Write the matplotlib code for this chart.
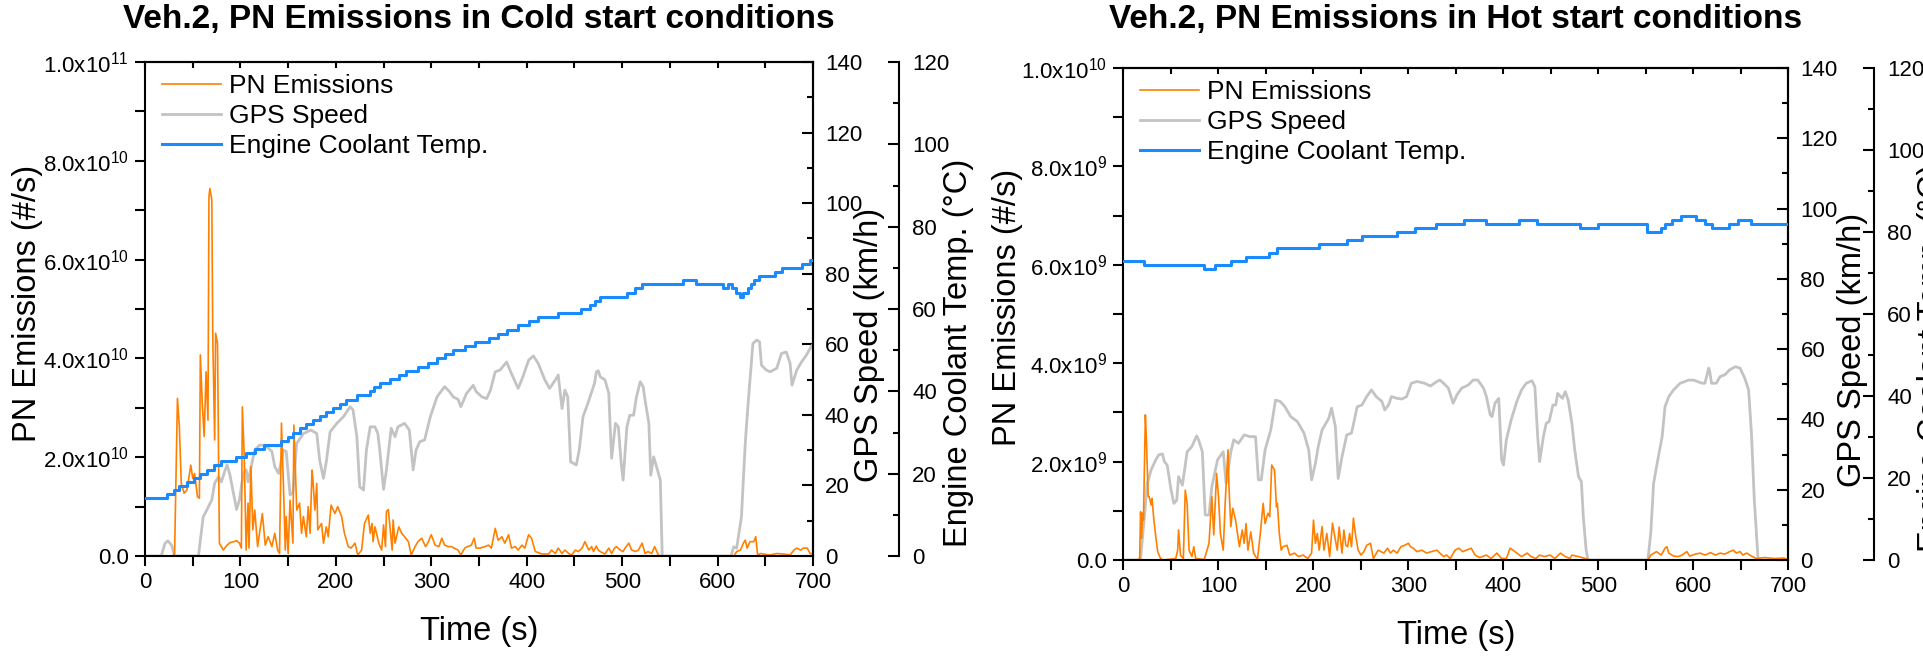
import numpy as np
import matplotlib
matplotlib.use('Agg')
import matplotlib.pyplot as plt
from matplotlib.ticker import MultipleLocator, FuncFormatter

plt.rcParams['font.family'] = ['Liberation Sans', 'DejaVu Sans']
plt.rcParams['mathtext.fontset'] = 'custom'
plt.rcParams['mathtext.rm'] = 'Liberation Sans'

ORANGE = '#FF8000'
GRAY = '#C3C3C3'
BLUE = '#1A8AFF'

# ---- cold start (Veh.2) ----
# PN in units of 1e10 #/s
t_pn_cold = [0, 29, 31, 34, 36, 38, 41, 44, 48, 50,
             52, 55, 57, 58, 60, 62, 64, 66, 67, 68,
             70, 71, 73, 74, 76, 77, 78, 82, 86, 89,
             93, 96, 99, 101, 102, 104, 106, 108, 109, 111,
             113, 115, 118, 120, 123, 126, 129, 133, 136, 139,
             141, 143, 145, 147, 148, 150, 152, 155, 156, 159,
             162, 164, 166, 169, 171, 173, 175, 176, 178, 180,
             181, 185, 187, 190, 192, 195, 199, 202, 206, 209,
             213, 216, 220, 223, 227, 230, 234, 236, 238, 239,
             241, 245, 248, 250, 252, 253, 255, 257, 259, 260,
             262, 266, 269, 272, 276, 279, 283, 286, 290, 294,
             297, 299, 300, 304, 308, 311, 314, 318, 321, 328,
             331, 335, 338, 342, 345, 347, 351, 356, 360, 363,
             367, 370, 374, 377, 381, 384, 388, 391, 395, 398,
             402, 405, 409, 416, 423, 426, 430, 433, 437, 440,
             444, 447, 451, 454, 458, 461, 465, 468, 470, 473,
             475, 477, 482, 486, 489, 492, 494, 498, 501, 503,
             507, 510, 514, 517, 521, 524, 527, 531, 534, 538,
             541, 617, 620, 624, 627, 629, 631, 634, 638, 640,
             642, 645, 648, 655, 662, 669, 676, 680, 683, 687,
             690, 694, 697, 700]
pn_cold = [0, 0, 0.05, 3.19, 2.62, 1.47, 1.27, 1.34, 1.84, 1.57,
           1.67, 1.20, 1.17, 4.07, 3.09, 2.42, 3.73, 2.75, 7.27, 7.44,
           7.21, 4.44, 2.35, 4.51, 4.30, 2.15, 0.26, 0.12, 0.22, 0.27,
           0.29, 0.31, 0.26, 0.16, 3.02, 2.01, 0.12, 1.07, 0.16, 1.81,
           0.53, 0.93, 0.19, 0.46, 0.86, 0.22, 0.39, 0.19, 0.46, 0.12,
           0.05, 2.69, 1.47, 0.12, 0.80, 0.05, 1.13, 0.26, 2.65, 0.93,
           1.07, 0.46, 0.80, 0.39, 1.00, 0.46, 1.74, 1.54, 0.93, 1.47,
           0.53, 0.66, 0.26, 0.59, 0.39, 1.03, 0.86, 1.00, 0.80, 0.46,
           0.19, 0.16, 0.26, 0.02, 0.12, 0.66, 0.83, 0.46, 0.66, 0.29,
           0.59, 0.26, 0.12, 0.63, 0.19, 0.90, 0.94, 0.53, 0.12, 0.73,
           0.26, 0.59, 0.46, 0.39, 0.29, 0.02, 0.19, 0.29, 0.36, 0.19,
           0.29, 0.39, 0.43, 0.22, 0.19, 0.36, 0.22, 0.19, 0.19, 0.12,
           0.02, 0.16, 0.19, 0.22, 0.36, 0.16, 0.16, 0.19, 0.22, 0.16,
           0.56, 0.32, 0.39, 0.26, 0.43, 0.16, 0.19, 0.12, 0.22, 0.16,
           0.43, 0.36, 0.09, 0.04, 0.04, 0.12, 0.05, 0.16, 0.05, 0.12,
           0.05, 0.02, 0.12, 0.09, 0.16, 0.29, 0.12, 0.19, 0.09, 0.20,
           0.12, 0.09, 0.04, 0.16, 0.05, 0.16, 0.19, 0.12, 0.09, 0.16,
           0.26, 0.12, 0.09, 0.12, 0.26, 0.05, 0.09, 0.05, 0.19, 0.02,
           0, 0, 0.09, 0.12, 0.26, 0.32, 0.16, 0.29, 0.29, 0.39,
           0.02, 0.05, 0.04, 0.02, 0.05, 0.04, 0.02, 0.12, 0.16, 0.12,
           0.16, 0.16, 0.05, 0.04]

t_speed_cold = [0, 17, 21, 24, 28, 31, 56, 61, 64, 70,
                73, 77, 80, 84, 86, 89, 92, 96, 99, 103,
                106, 108, 112, 115, 120, 126, 133, 136, 140, 145,
                148, 152, 155, 159, 166, 174, 180, 183, 187, 190,
                194, 201, 208, 215, 218, 222, 225, 229, 232, 236,
                241, 244, 246, 250, 253, 258, 262, 265, 272, 277,
                281, 284, 288, 293, 299, 306, 314, 319, 323, 328,
                331, 337, 344, 347, 353, 358, 362, 367, 372, 379,
                384, 391, 396, 402, 407, 412, 419, 424, 430, 433,
                437, 440, 443, 446, 452, 455, 459, 464, 471, 473,
                475, 477, 482, 486, 487, 489, 493, 496, 499, 501,
                505, 508, 512, 515, 519, 522, 524, 528, 530, 533,
                537, 540, 542, 614, 617, 620, 625, 629, 632, 637,
                641, 644, 646, 651, 655, 662, 667, 672, 676, 678,
                683, 688, 693, 698, 700]
speed_cold = [0, 0, 3.6, 4.3, 3.0, 0, 0, 11.1, 12.6, 15.9,
              20.6, 22.5, 21.0, 24.4, 25.8, 23.0, 18.7, 13.2, 15.9, 23.4,
              24.4, 21.0, 26.3, 30.0, 31.4, 31.4, 29.6, 25.3, 23.4, 30.0,
              29.6, 17.3, 18.0, 31.9, 34.7, 35.7, 34.7, 27.2, 22.0, 26.7,
              35.2, 37.6, 39.5, 42.3, 41.4, 33.8, 19.6, 18.7, 30.0, 36.6,
              36.6, 34.7, 30.0, 18.9, 24.4, 36.2, 33.8, 36.6, 37.6, 35.7,
              24.4, 30.0, 32.4, 32.9, 39.5, 45.1, 48.0, 46.6, 45.1, 44.4,
              42.3, 46.1, 48.4, 46.6, 45.1, 44.6, 47.0, 52.2, 52.7, 55.0,
              51.7, 47.5, 50.8, 55.5, 56.7, 54.6, 49.9, 47.5, 49.9, 51.3,
              41.8, 47.0, 45.1, 26.7, 25.8, 30.0, 39.5, 43.2, 48.9, 52.2,
              52.5, 50.8, 49.9, 46.1, 39.5, 27.7, 37.6, 36.6, 26.3, 21.5,
              36.6, 39.9, 39.9, 45.1, 49.4, 48.0, 44.2, 37.6, 22.9, 28.1,
              24.4, 21.5, 0, 0, 2.6, 2.2, 11.1, 31.9, 43.2, 60.2,
              61.2, 60.7, 54.1, 52.7, 52.2, 53.2, 57.4, 57.8, 54.6, 48.4,
              52.7, 55.0, 56.9, 59.3, 60.0]

t_temp_cold = [0, 23, 30, 36, 44, 51, 58, 65, 72, 80,
               95, 106, 115, 125, 143, 150, 155, 162, 169, 176,
               183, 190, 197, 204, 211, 222, 236, 240, 246, 257,
               266, 274, 286, 297, 306, 314, 323, 335, 346, 360,
               370, 379, 391, 402, 412, 433, 457, 466, 472, 477,
               505, 513, 521, 564, 577, 606, 611, 615, 619, 623,
               627, 632, 635, 638, 643, 660, 667, 688, 697, 700]
temp_cold = [14, 15, 16, 17, 18, 19, 20, 21, 22, 23,
             24, 25, 26, 27, 28, 29, 30, 31, 32, 33,
             34, 35, 36, 37, 38, 39, 40, 41, 42, 43,
             44, 45, 46, 47, 48, 49, 50, 51, 52, 53,
             54, 55, 56, 57, 58, 59, 60, 61, 62, 63,
             64, 65, 66, 67, 66, 65, 66, 65, 64, 63,
             64, 65, 66, 67, 68, 69, 70, 71, 72, 72]

# ---- hot start (Veh.2) ----
# PN in units of 1e9 #/s
t_pn_hot = [0, 15, 17, 18, 19, 20, 21, 23, 24, 26,
            27, 29, 30, 32, 34, 36, 39, 42, 55, 57,
            58, 60, 63, 65, 67, 69, 72, 74, 76, 85,
            90, 93, 95, 98, 100, 102, 105, 107, 110, 111,
            113, 115, 118, 120, 122, 125, 127, 129, 131, 134,
            137, 141, 144, 147, 149, 152, 154, 156, 159, 161,
            162, 164, 166, 168, 172, 175, 180, 184, 189, 194,
            198, 200, 202, 204, 206, 209, 211, 214, 217, 220,
            223, 225, 227, 230, 232, 234, 236, 238, 240, 242,
            244, 247, 250, 253, 256, 260, 263, 268, 274, 278,
            281, 284, 288, 292, 296, 300, 302, 305, 309, 314,
            319, 324, 330, 333, 337, 340, 344, 349, 353, 357,
            361, 366, 370, 375, 382, 387, 393, 398, 403, 407,
            410, 414, 419, 425, 429, 434, 438, 443, 449, 454,
            460, 465, 470, 472, 479, 486, 490, 552, 555, 561,
            566, 570, 572, 574, 579, 584, 588, 593, 596, 602,
            607, 612, 618, 623, 628, 633, 638, 642, 645, 649,
            652, 656, 661, 666, 675, 685, 695, 700]
pn_hot = [0, 0, 0.03, 0.98, 0.44, 0.95, 0.81, 2.95, 2.51, 1.29,
          1.29, 1.12, 1.25, 0.81, 0.47, 0.17, 0.03, 0, 0.03, 0.20,
          0.61, 0.10, 0.03, 1.42, 1.15, 0.20, 0.07, 0.27, 0.03, 0.01,
          0.34, 1.29, 0.51, 1.76, 1.29, 0.54, 0.20, 1.15, 2.24, 1.49,
          0.68, 1.05, 0.81, 0.54, 0.27, 0.61, 0.34, 0.74, 0.20, 0.57,
          0.14, 0.01, 0.54, 1.15, 0.74, 0.95, 0.88, 1.93, 1.83, 1.08,
          1.15, 0.54, 0.20, 0.27, 0.30, 0.10, 0.14, 0.07, 0.10, 0.03,
          0.14, 0.81, 0.34, 0.54, 0.20, 0.68, 0.20, 0.54, 0.07, 0.75,
          0.41, 0.20, 0.67, 0.14, 0.61, 0.30, 0.27, 0.54, 0.27, 0.85,
          0.54, 0.20, 0.10, 0.17, 0.30, 0.34, 0.03, 0.20, 0.14, 0.24,
          0.14, 0.20, 0.14, 0.27, 0.30, 0.34, 0.27, 0.24, 0.17, 0.20,
          0.14, 0.17, 0.20, 0.14, 0.07, 0.10, 0.03, 0.20, 0.24, 0.17,
          0.20, 0.24, 0.10, 0.05, 0.10, 0.03, 0.14, 0.03, 0.03, 0.24,
          0.20, 0.14, 0.07, 0.14, 0.07, 0.03, 0.10, 0.07, 0.10, 0.03,
          0.14, 0.07, 0.03, 0.10, 0.07, 0.03, 0, 0, 0.10, 0.17,
          0.10, 0.24, 0.27, 0.14, 0.08, 0.07, 0.10, 0.17, 0.08, 0.12,
          0.14, 0.10, 0.15, 0.10, 0.14, 0.12, 0.17, 0.20, 0.14, 0.17,
          0.10, 0.14, 0.08, 0.03, 0.05, 0.03, 0.04, 0.01]

t_speed_hot = [0, 16, 18, 22, 25, 29, 34, 37, 41, 43,
               46, 50, 53, 56, 58, 62, 67, 72, 77, 79,
               83, 86, 90, 93, 99, 105, 108, 113, 116, 121,
               127, 133, 139, 142, 145, 149, 155, 160, 165, 170,
               176, 183, 190, 195, 198, 202, 205, 209, 212, 216,
               219, 223, 226, 230, 235, 240, 246, 251, 256, 261,
               266, 272, 275, 279, 282, 288, 293, 298, 303, 309,
               317, 323, 330, 333, 337, 342, 347, 351, 356, 363,
               368, 373, 379, 382, 386, 388, 391, 395, 398, 400,
               403, 408, 414, 419, 424, 430, 433, 436, 438, 442,
               445, 448, 452, 455, 457, 462, 465, 468, 472, 475,
               479, 482, 484, 487, 489, 552, 555, 558, 563, 567,
               570, 574, 579, 586, 595, 600, 609, 612, 616, 617,
               619, 624, 628, 633, 638, 644, 649, 654, 658, 661,
               664, 668, 700]
speed_hot = [0, 0, 0.5, 12.3, 21.8, 25.6, 28.5, 29.9, 30.2, 28.0,
             27.0, 20.0, 16.1, 17.0, 23.7, 21.3, 30.8, 32.3, 35.3, 34.2,
             30.8, 12.8, 12.8, 20.9, 28.5, 30.8, 21.8, 30.8, 34.2, 33.2,
             35.6, 35.1, 35.1, 22.8, 22.8, 31.3, 37.0, 45.5, 45.1, 43.6,
             40.8, 39.4, 36.1, 31.3, 22.8, 27.5, 32.3, 37.0, 38.4, 40.3,
             43.2, 38.0, 23.2, 29.4, 35.6, 36.1, 43.6, 44.1, 46.5, 48.4,
             46.5, 45.1, 42.7, 44.1, 46.5, 46.0, 45.8, 46.5, 50.3, 50.8,
             50.3, 49.5, 50.8, 51.2, 50.3, 48.9, 44.6, 47.0, 48.9, 49.8,
             51.2, 51.2, 48.9, 46.5, 41.3, 40.8, 44.6, 46.0, 28.5, 27.0,
             34.2, 39.8, 45.1, 48.4, 50.3, 51.0, 49.3, 35.1, 28.0, 35.1,
             38.9, 39.4, 44.1, 44.1, 47.4, 46.0, 47.9, 45.6, 38.9, 31.3,
             23.7, 22.3, 12.3, 2.8, 0, 0, 7.6, 21.8, 29.4, 35.1,
             43.6, 46.5, 48.4, 50.3, 51.2, 51.2, 50.3, 50.3, 54.6, 53.7,
             50.3, 50.3, 52.2, 52.7, 54.1, 55.0, 54.6, 51.7, 48.4, 36.1,
             17.1, 0, 0]

t_temp_hot = [0, 22, 85, 96, 113, 129, 153, 162, 206, 235,
              251, 288, 307, 329, 358, 382, 416, 435, 481, 500,
              551, 566, 570, 577, 587, 603, 612, 619, 637, 647,
              661, 700]
temp_hot = [73, 72, 71, 72, 73, 74, 75, 76, 77, 78,
            79, 80, 81, 82, 83, 82, 83, 82, 81, 82,
            80, 81, 82, 83, 84, 83, 82, 81, 82, 83,
            82, 82]


def sci_fmt(v, pos):
    if abs(v) < 1:
        return '0.0'
    if v < 0:
        return ''
    e = int(np.floor(np.log10(v) + 1e-9))
    return r'$\mathregular{%.1fx10^{%d}}$' % (v / 10 ** e, e)


def draw_panel(fig, rect, title, t_pn, pn, pn_top, t_spd, spd, t_tmp, tmp,
               lab_xy):
    ax = fig.add_axes(rect)
    ax_spd = ax.twinx()
    ax_tmp = ax.twinx()

    # speed underneath, PN above it, coolant temp on top
    ax_spd.set_zorder(1)
    ax.set_zorder(2)
    ax_tmp.set_zorder(3)
    ax.patch.set_visible(False)

    l_spd, = ax_spd.plot(t_spd, spd, color=GRAY, lw=2.0)
    l_pn, = ax.plot(t_pn, np.array(pn) * pn_top / 10, color=ORANGE, lw=1.2)
    l_tmp, = ax_tmp.plot(t_tmp, tmp, color=BLUE, lw=2.2, drawstyle='steps-post')

    ax.set_xlim(0, 700)
    ax.set_ylim(0, pn_top)
    ax_spd.set_ylim(0, 140)
    ax_tmp.set_ylim(0, 120)

    ax_tmp.spines['right'].set_position(('axes', 1.1285))
    for a in (ax_spd, ax_tmp):
        for s in ('left', 'top', 'bottom'):
            a.spines[s].set_visible(False)
    for a in (ax, ax_spd, ax_tmp):
        for s in a.spines.values():
            s.set_linewidth(1.5)

    ax.xaxis.set_major_locator(MultipleLocator(100))
    ax.xaxis.set_minor_locator(MultipleLocator(50))
    ax.yaxis.set_major_locator(MultipleLocator(pn_top / 5))
    ax.yaxis.set_minor_locator(MultipleLocator(pn_top / 10))
    ax.yaxis.set_major_formatter(FuncFormatter(sci_fmt))
    ax.tick_params(axis='both', which='both', direction='out', width=1.5,
                   length=7.5, labelsize=16, pad=4.3, top=False, right=False)

    top = ax.secondary_xaxis('top')
    top.xaxis.set_major_locator(MultipleLocator(50))
    top.tick_params(direction='in', length=4, width=1.5, labeltop=False)
    top.spines['top'].set_linewidth(1.5)

    for a, pad in ((ax_spd, 8.6), (ax_tmp, 9.6)):
        a.yaxis.set_major_locator(MultipleLocator(20))
        a.yaxis.set_minor_locator(MultipleLocator(10))
        a.tick_params(axis='y', which='both', direction='in', width=1.5,
                      labelsize=16, pad=pad)
        a.tick_params(axis='y', which='major', length=7.7)
        a.tick_params(axis='y', which='minor', length=4.3)

    ax.set_xlabel('Time (s)', fontsize=23.5, labelpad=16)
    ax.set_ylabel('PN Emissions (#/s)', fontsize=23.5)
    ax_spd.set_ylabel('GPS Speed (km/h)', fontsize=23.5)
    ax_tmp.set_ylabel('Engine Coolant Temp. (°C)', fontsize=23.5)
    for a, (x, y) in zip((ax, ax_spd, ax_tmp), lab_xy):
        a.yaxis.set_label_coords(x, y)
        a.yaxis.label.set_va('center')

    ax_tmp.legend([l_pn, l_spd, l_tmp],
                  ['PN Emissions', 'GPS Speed', 'Engine Coolant Temp.'],
                  loc='upper left', bbox_to_anchor=(0.025, 0.975),
                  frameon=False, fontsize=19, handlelength=2.25,
                  handletextpad=0.3, labelspacing=0.22,
                  borderaxespad=0, borderpad=0)

    fig.text(rect[0] + rect[2] / 2, 0.958, title, ha='center',
             va='baseline', fontsize=24, fontweight='bold')
    return ax


fig = plt.figure(figsize=(19.24, 6.67), dpi=100)

draw_panel(fig, [145 / 1924, 111 / 667, 668 / 1924, 494 / 667],
           'Veh.2, PN Emissions in Cold start conditions',
           t_pn_cold, pn_cold, 1e11, t_speed_cold, speed_cold,
           t_temp_cold, temp_cold,
           ((-0.176, 0.512), (1.084, 0.428), (1.2175, 0.411)))

draw_panel(fig, [1123.5 / 1924, 107 / 667, 665 / 1924, 492 / 667],
           'Veh.2, PN Emissions in Hot start conditions',
           t_pn_hot, pn_hot, 1e10, t_speed_hot, speed_hot,
           t_temp_hot, temp_hot,
           ((-0.175, 0.514), (1.096, 0.426), (1.216, 0.411)))

fig.savefig('out.png', dpi=100)
